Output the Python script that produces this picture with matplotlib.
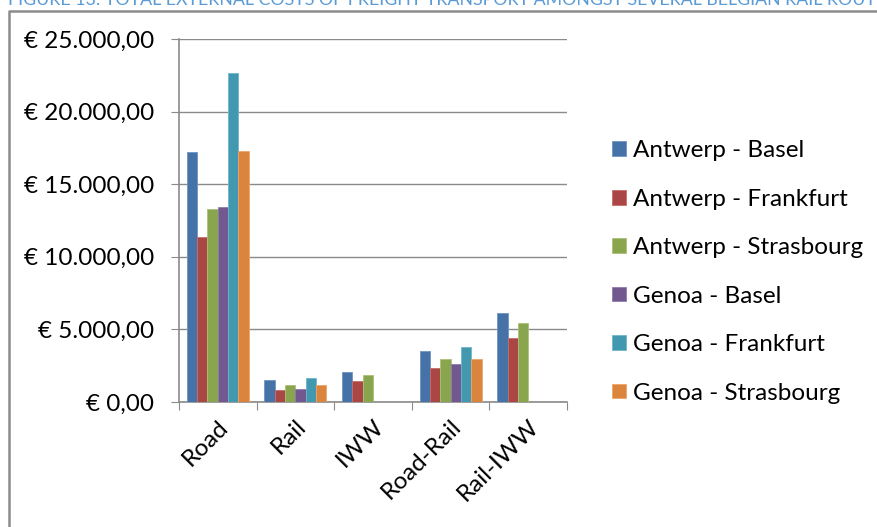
import numpy as np
from matplotlib import pyplot as plt
from matplotlib.lines import Line2D
from matplotlib.ticker import FuncFormatter

plt.rcParams['font.family'] = ['Lato', 'DejaVu Sans']

# Total external costs per transport mode and route (EUR)
categories = ['Road', 'Rail', 'IWW', 'Road-Rail', 'Rail-IWW']
routes = ['Antwerp - Basel', 'Antwerp - Frankfurt', 'Antwerp - Strasbourg',
          'Genoa - Basel', 'Genoa - Frankfurt', 'Genoa - Strasbourg']
antwerp_basel = [17200, 1500, 2100, 3500, 6150]
antwerp_frankfurt = [11350, 800, 1420, 2360, 4420]
antwerp_strasbourg = [13300, 1150, 1850, 2980, 5450]
genoa_basel = [13400, 870, np.nan, 2630, np.nan]
genoa_frankfurt = [22650, 1670, np.nan, 3770, np.nan]
genoa_strasbourg = [17300, 1150, np.nan, 2980, np.nan]

series = [antwerp_basel, antwerp_frankfurt, antwerp_strasbourg,
          genoa_basel, genoa_frankfurt, genoa_strasbourg]
colors = ['#4572A7', '#AA4643', '#89A54E', '#71588F', '#4198AF', '#DB843D']
edges = ['#6E93C4', '#C86D6A', '#A9C277', '#9079AD', '#6DB6CA', '#EFA46A']


def euro(v, pos):
	s = '{:,.2f}'.format(v)
	s = s.replace(',', '#').replace('.', ',').replace('#', '.')
	return '€ ' + s


fig = plt.figure(figsize=(8.78, 5.27), dpi=100)
ax = fig.add_axes([179/878, 1 - 402/527, (567-179)/878, (402-39)/527])

x = np.arange(len(categories))
width = 0.8 / len(series)
for i, vals in enumerate(series):
	offs = (i - (len(series) - 1) / 2) * width
	ax.bar(x + offs, vals, width, color=colors[i], edgecolor=edges[i],
		linewidth=0.6, label=routes[i], zorder=3)

ax.set_xlim(-0.5, len(categories) - 0.5)
ax.set_ylim(0, 25000)
ax.set_yticks(np.arange(0, 25001, 5000))
ax.yaxis.set_major_formatter(FuncFormatter(euro))
ax.yaxis.grid(True, color='#8a8a8a', linewidth=1.0, zorder=0)

# category boundaries carry the x ticks, labels sit at centres
ax.set_xticks(np.arange(-0.5, len(categories)), minor=False)
ax.set_xticklabels([])
ax.set_xticks(x, minor=True)
ax.set_xticklabels(categories, minor=True, rotation=45, ha='right',
	rotation_mode='anchor', fontsize=17.5)
ax.tick_params(axis='x', which='minor', length=0, pad=10)
ax.tick_params(axis='x', which='major', length=6, color='#8a8a8a', direction='out')
ax.tick_params(axis='y', length=6, color='#8a8a8a', labelsize=17.5, pad=12)

for side in ['top', 'right']:
	ax.spines[side].set_visible(False)
for side in ['left', 'bottom']:
	ax.spines[side].set_color('#8a8a8a')
	ax.spines[side].set_linewidth(1.2)

ax.legend(loc='center left', bbox_to_anchor=(600/878, 1 - 272/527),
	bbox_transform=fig.transFigure, frameon=False, fontsize=17.5,
	handlelength=0.55, handleheight=0.55, handletextpad=0.3,
	labelspacing=1.13, borderpad=0)

# frame around the chart area
fig.add_artist(Line2D([9/878, 9/878, 1.0], [0.0, 1 - 11/527, 1 - 11/527],
	transform=fig.transFigure, color='#8c8c8c', linewidth=1.8))

fig.text(0.009, 1.0, 'FIGURE 13: TOTAL EXTERNAL COSTS OF FREIGHT TRANSPORT AMONGST SEVERAL BELGIAN RAIL ROUTES',
	color='#5B9BD5', fontsize=12.8, va='center', ha='left')

fig.savefig('out.png', dpi=100)
